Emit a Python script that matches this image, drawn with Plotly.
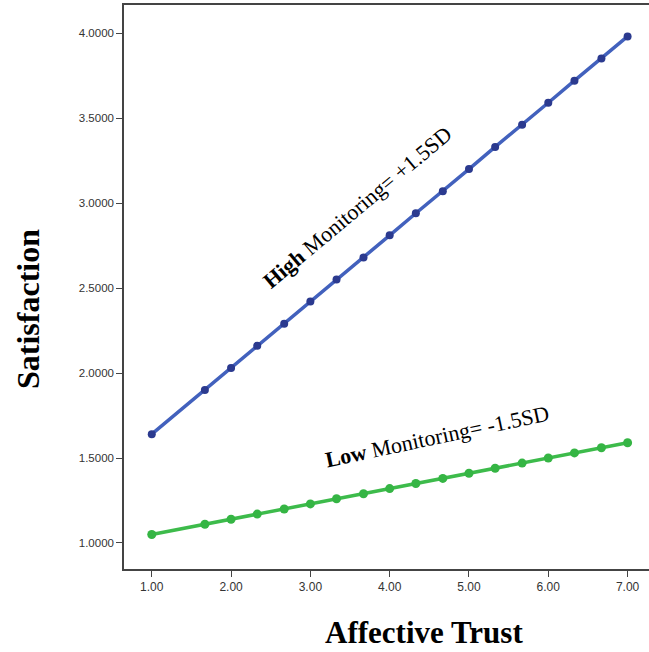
import plotly.graph_objects as go

x_vals = [1.0, 1.67, 2.0, 2.33, 2.67, 3.0, 3.33, 3.67, 4.0, 4.33, 4.67, 5.0, 5.33, 5.67, 6.0, 6.33, 6.67, 7.0]
high_vals = [1.64, 1.90, 2.03, 2.16, 2.29, 2.42, 2.55, 2.68, 2.81, 2.94, 3.07, 3.20, 3.33, 3.46, 3.59, 3.72, 3.85, 3.98]
low_vals = [1.05, 1.11, 1.14, 1.17, 1.20, 1.23, 1.26, 1.29, 1.32, 1.35, 1.38, 1.41, 1.44, 1.47, 1.50, 1.53, 1.56, 1.59]
x_ticks = [1, 2, 3, 4, 5, 6, 7]
x_tick_labels = ["1.00", "2.00", "3.00", "4.00", "5.00", "6.00", "7.00"]
y_ticks = [1.0, 1.5, 2.0, 2.5, 3.0, 3.5, 4.0]
y_tick_labels = ["1.0000", "1.5000", "2.0000", "2.5000", "3.0000", "3.5000", "4.0000"]

fig = go.Figure()
fig.add_trace(go.Scatter(x=x_vals, y=high_vals, mode="lines+markers",
                         line=dict(color="#4261bd", width=3.5),
                         marker=dict(color="#2b3a8f", size=8),
                         name="High Monitoring", cliponaxis=False))
fig.add_trace(go.Scatter(x=x_vals, y=low_vals, mode="lines+markers",
                         line=dict(color="#3dbb4b", width=3.5),
                         marker=dict(color="#35b544", size=9),
                         name="Low Monitoring", cliponaxis=False))

fig.update_layout(
    width=649, height=652,
    margin=dict(l=124, r=0, t=5, b=83, autoexpand=False),
    paper_bgcolor="white", plot_bgcolor="white",
    showlegend=False,
    font=dict(family="Liberation Sans, Arial", size=11, color="#333333"),
    xaxis=dict(range=[0.65, 7.27], tickmode="array", tickvals=x_ticks, ticktext=x_tick_labels,
               showline=True, linecolor="#444444", linewidth=1.5, mirror=True, automargin=False,
               ticks="outside", ticklen=6, tickcolor="#444444", showgrid=False, zeroline=False,
               tickfont=dict(family="Liberation Sans, Arial", size=12, color="#333333")),
    yaxis=dict(range=[0.847, 4.165], tickmode="array", tickvals=y_ticks, ticktext=y_tick_labels,
               showline=True, linecolor="#444444", linewidth=1.5, mirror=False, automargin=False,
               ticks="outside", ticklen=6, tickcolor="#444444", showgrid=False, zeroline=False,
               tickfont=dict(family="Liberation Sans, Arial", size=11.5, color="#333333")),
)

serif = "Liberation Serif, Times New Roman, serif"
fig.add_annotation(xref="paper", yref="paper", x=(424 - 124) / 525, y=(569 - 632) / 564,
                   text="<b>Affective Trust</b>", showarrow=False,
                   font=dict(family=serif, size=31, color="black"), xanchor="center", yanchor="middle")
fig.add_annotation(xref="paper", yref="paper", x=(28 - 124) / 525, y=(569 - 309) / 564,
                   text="<b>Satisfaction</b>", showarrow=False, textangle=-90,
                   font=dict(family=serif, size=32, color="black"), xanchor="center", yanchor="middle")
fig.add_annotation(xref="paper", yref="paper", x=(357 - 124) / 525, y=(569 - 207) / 564,
                   text="<b>High</b> Monitoring= +1.5SD", showarrow=False, textangle=-40,
                   font=dict(family=serif, size=22, color="black"), xanchor="center", yanchor="middle")
fig.add_annotation(xref="paper", yref="paper", x=(437 - 124) / 525, y=(569 - 436) / 564,
                   text="<b>Low</b> Monitoring= -1.5SD", showarrow=False, textangle=-12,
                   font=dict(family=serif, size=22, color="black"), xanchor="center", yanchor="middle")

fig.write_html("out.html", config={"displayModeBar": False},
               post_script="document.body.style.margin='0px';document.body.style.overflow='hidden';")
